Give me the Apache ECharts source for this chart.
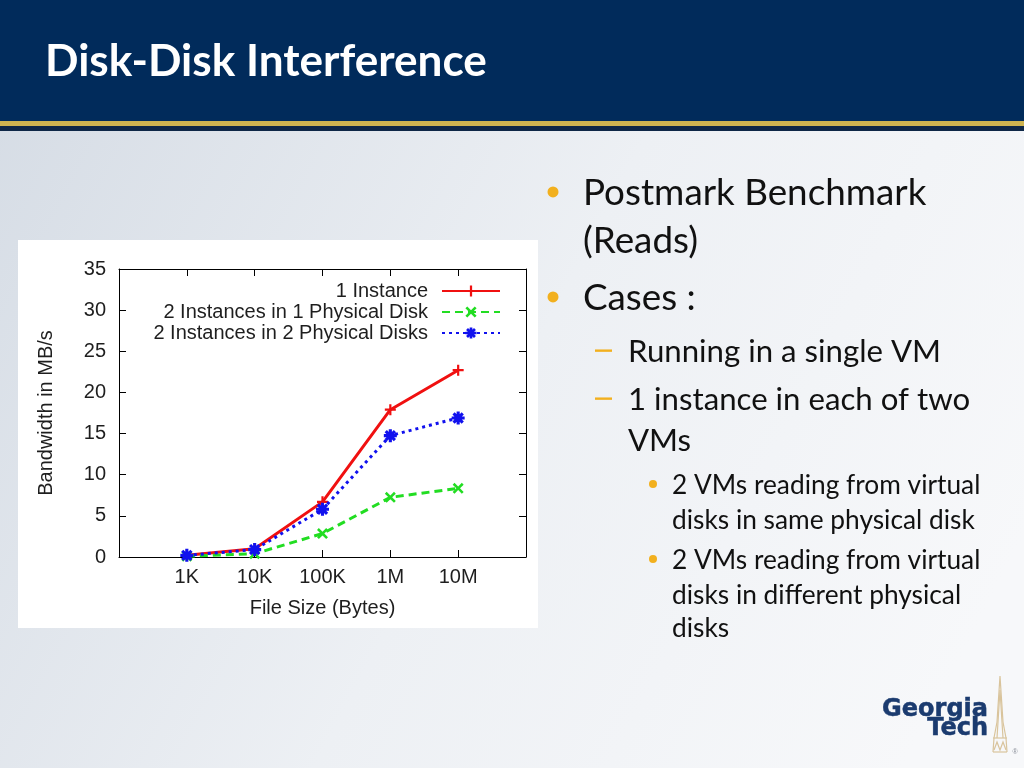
<!DOCTYPE html>
<html><head><meta charset="utf-8">
<script src="https://cdn.jsdelivr.net/npm/echarts/dist/echarts.min.js"></script>
<style>html,body{margin:0;padding:0;background:#fff}#c{width:1024px;height:768px}</style>
</head><body><div id="c"></div><script>
// ---- data ----
const sizeLabels = ['1K', '10K', '100K', '1M', '10M'];
const fileSizes = [1e3, 1e4, 1e5, 1e6, 1e7];
const seriesNames = ['1 Instance', '2 Instances in 1 Physical Disk', '2 Instances in 2 Physical Disks'];
const oneInstance = [0.2, 1.0, 6.7, 17.9, 22.7];
const twoInOneDisk = [0.1, 0.4, 2.85, 7.25, 8.35];
const twoInTwoDisks = [0.2, 0.9, 5.8, 14.75, 16.9];
const yTickValues = [0, 5, 10, 15, 20, 25, 30, 35];
const titleText = 'Disk-Disk Interference';
const bodyLines = ['Postmark Benchmark', '(Reads)', 'Cases :', 'Running in a single VM',
  '1 instance in each of two', 'VMs', '2 VMs reading from virtual', 'disks in same physical disk',
  '2 VMs reading from virtual', 'disks in different physical', 'disks'];
const bodyLevels = [1, 1, 1, 2, 2, 2, 3, 3, 3, 3, 3];
const bulletLineIdx = [0, 2, 3, 4, 6, 8];
const logoLines = ['Georgia', 'Tech'];

// ---- layout ----
const bodyBaselines = [203, 251, 308, 360, 408, 449, 492, 527, 567, 602, 635];
const levelX = {1: 583, 2: 628, 3: 672};
const levelFit = {1: ['Postmark Benchmark', 343], 2: ['Running in a single VM', 313], 3: ['2 VMs reading from virtual', 308]};
const BODY_FONT = 'Lato';
const cv = document.createElement('canvas').getContext('2d');
function fitSize(text, weight, family, target) {
  cv.font = weight + ' 100px ' + family;
  return 100 * target / cv.measureText(text).width;
}
const levelSize = {};
[1, 2, 3].forEach(l => { levelSize[l] = fitSize(levelFit[l][0], 'normal', BODY_FONT, levelFit[l][1]); });
const titleSize = fitSize(titleText, 'bold', BODY_FONT, 442);
const MID = 0.26;

const graphics = [];
graphics.push({type: 'rect', z: -20, shape: {x: 0, y: 0, width: 1024, height: 768},
  style: {fill: {type: 'linear', x: 0, y: 0, x2: 1, y2: 0.7, colorStops: [
    {offset: 0, color: '#d4dbe4'}, {offset: 0.55, color: '#edf0f4'}, {offset: 1, color: '#f7f8fa'}]}}});
graphics.push({type: 'rect', z: -19, shape: {x: 0, y: 0, width: 1024, height: 121}, style: {fill: '#012b5b'}});
graphics.push({type: 'rect', z: -19, shape: {x: 0, y: 121, width: 1024, height: 5}, style: {fill: '#cfb450'}});
graphics.push({type: 'rect', z: -19, shape: {x: 0, y: 126, width: 1024, height: 5}, style: {fill: '#0e2747'}});
graphics.push({type: 'rect', z: -18, shape: {x: 18, y: 240, width: 520, height: 388}, style: {fill: '#ffffff'}});
graphics.push({type: 'text', z: 10, x: 45, y: 73 - MID * titleSize, style: {
  text: titleText, font: 'bold ' + titleSize.toFixed(1) + 'px ' + BODY_FONT, fill: '#ffffff',
  textAlign: 'left', textVerticalAlign: 'middle',
  shadowColor: 'rgba(0,0,0,0.85)', shadowBlur: 3, shadowOffsetX: 2, shadowOffsetY: 2}});
bodyLines.forEach((t, i) => {
  const l = bodyLevels[i], s = levelSize[l];
  graphics.push({type: 'text', z: 10, x: levelX[l], y: bodyBaselines[i] - MID * s, style: {
    text: t, font: s.toFixed(1) + 'px ' + BODY_FONT, fill: '#111111', textAlign: 'left', textVerticalAlign: 'middle'}});
});
bulletLineIdx.forEach(i => {
  const l = bodyLevels[i], s = levelSize[l];
  const cy = bodyBaselines[i] - 0.30 * s;
  if (l === 1) graphics.push({type: 'circle', z: 10, shape: {cx: 553, cy: cy, r: 5.5}, style: {fill: '#f2b01e'}});
  else if (l === 2) graphics.push({type: 'rect', z: 10, shape: {x: 595, y: cy - 1.2, width: 17, height: 2.4}, style: {fill: '#f2b01e'}});
  else graphics.push({type: 'circle', z: 10, shape: {cx: 653, cy: cy, r: 4}, style: {fill: '#f2b01e'}});
});
[718, 737].forEach((b, i) => {
  graphics.push({type: 'text', z: 10, x: 988, y: b - 8.3, style: {text: logoLines[i], font: 'bold 24px "DejaVu Sans"',
    fill: '#1b3b6f', stroke: '#1b3b6f', lineWidth: 0.5, textAlign: 'right', textVerticalAlign: 'middle'}});
});
const towerStyle = {stroke: '#d9c49c', lineWidth: 1.2, fill: null};
[[[993, 752], [994, 738], [997, 722], [1000, 676], [1003, 722], [1006, 738], [1007, 752]],
 [[997, 738], [1000, 690], [1003, 738]],
 [[993, 738], [1007, 738]],
 [[993, 752], [1007, 752]],
 [[994, 750], [997, 742], [1000, 750], [1003, 742], [1006, 750]]].forEach(p => {
  graphics.push({type: 'polyline', z: 10, shape: {points: p}, style: towerStyle});
});
graphics.push({type: 'text', z: 10, x: 1015, y: 752, style: {text: '®', font: '7px "Liberation Sans"', fill: '#8a8f99', textAlign: 'center', textVerticalAlign: 'middle'}});

const AX = '#000000', LBL = '#1e1e1e', FF = '"Liberation Sans", Arial, sans-serif';
function xIndex(v) {
  for (let i = 0; i < fileSizes.length; i++) {
    if (Math.abs(Math.log10(v) - Math.log10(fileSizes[i])) < 1e-6) return i;
  }
  return -1;
}
function xLabel(v) { const i = xIndex(v); return i >= 0 ? sizeLabels[i] : ''; }
const plusPath = 'path://M-1,-5H1V-1H5V1H1V5H-1V1H-5V-1H-1Z';
const crossPath = 'path://M2.828,-4.243L4.243,-2.828L1.414,0L4.243,2.828L2.828,4.243L0,1.414L-2.828,4.243L-4.243,2.828L-1.414,0L-4.243,-2.828L-2.828,-4.243L0,-1.414Z';
const starPath = 'path://M-1.2,-5L1.2,-5L1.2,-1.2L5,-1.2L5,1.2L1.2,1.2L1.2,5L-1.2,5L-1.2,1.2L-5,1.2L-5,-1.2L-1.2,-1.2Z M2.687,-4.384L4.384,-2.687L1.697,0L4.384,2.687L2.687,4.384L0,1.697L-2.687,4.384L-4.384,2.687L-1.697,0L-4.384,-2.687L-2.687,-4.384L0,-1.697Z';
const seriesValues = [oneInstance, twoInOneDisk, twoInTwoDisks];
const colors = ['#f01010', '#22dd22', '#1111ee'];
const dashes = ['solid', [8, 5], [3, 4]];
const symbols = [plusPath, crossPath, starPath];
const symSizes = [11, 11, 13];

const xBase = {type: 'log', logBase: 10, min: 100, max: 1e8, interval: 1,
  axisLine: {show: true, onZero: false, lineStyle: {color: AX, width: 1}},
  axisTick: {show: true, inside: true, length: 7, lineStyle: {color: AX, width: 1}, customValues: fileSizes},
  splitLine: {show: false}, minorTick: {show: false}, minorSplitLine: {show: false}};
const yBase = {type: 'value', min: 0, max: 35, interval: 5,
  axisLine: {show: true, onZero: false, lineStyle: {color: AX, width: 1}},
  axisTick: {show: true, inside: true, length: 7, lineStyle: {color: AX, width: 1}},
  splitLine: {show: false}};

const option = {
  animation: false,
  backgroundColor: 'transparent',
  graphic: {elements: graphics},
  grid: {left: 119, right: 498, top: 269, bottom: 211, containLabel: false, outerBoundsMode: 'none'},
  legend: {show: true, orient: 'vertical', align: 'right', right: 518, top: 276,
    itemWidth: 58, itemHeight: 14, itemGap: 1,
    textStyle: {fontFamily: FF, fontSize: 20, color: LBL, padding: [0, 9, 0, 0]},
    data: seriesNames},
  tooltip: {show: false},
  xAxis: [
    Object.assign({}, xBase, {position: 'bottom', name: 'File Size (Bytes)', nameLocation: 'middle', nameGap: 41,
      nameTextStyle: {fontFamily: FF, fontSize: 20, color: LBL},
      axisLabel: {show: true, formatter: xLabel, customValues: fileSizes, fontFamily: FF, fontSize: 20, color: LBL, margin: 10}}),
    Object.assign({}, xBase, {position: 'top', axisLabel: {show: false}})
  ],
  yAxis: [
    Object.assign({}, yBase, {position: 'left', name: 'Bandwidth in MB/s', nameLocation: 'middle', nameGap: 63, nameRotate: 90,
      nameTextStyle: {fontFamily: FF, fontSize: 20, color: LBL},
      axisLabel: {show: true, fontFamily: FF, fontSize: 20, color: LBL, margin: 13,
        formatter: v => (yTickValues.indexOf(v) >= 0 ? String(v) : '')}}),
    Object.assign({}, yBase, {position: 'right', axisLabel: {show: false}})
  ],
  series: seriesNames.map((n, k) => ({
    name: n, type: 'line', xAxisIndex: 0, yAxisIndex: 0,
    data: fileSizes.map((x, i) => [x, seriesValues[k][i]]),
    symbol: symbols[k], symbolSize: symSizes[k], showSymbol: true, z: 3 + k,
    lineStyle: {color: colors[k], width: 3, type: dashes[k], cap: 'butt'},
    itemStyle: {color: colors[k], borderWidth: 0},
    emphasis: {disabled: true}
  }))
};
const chart = echarts.init(document.getElementById('c'), null, {renderer: 'canvas'});
chart.setOption(option);
</script></body></html>
